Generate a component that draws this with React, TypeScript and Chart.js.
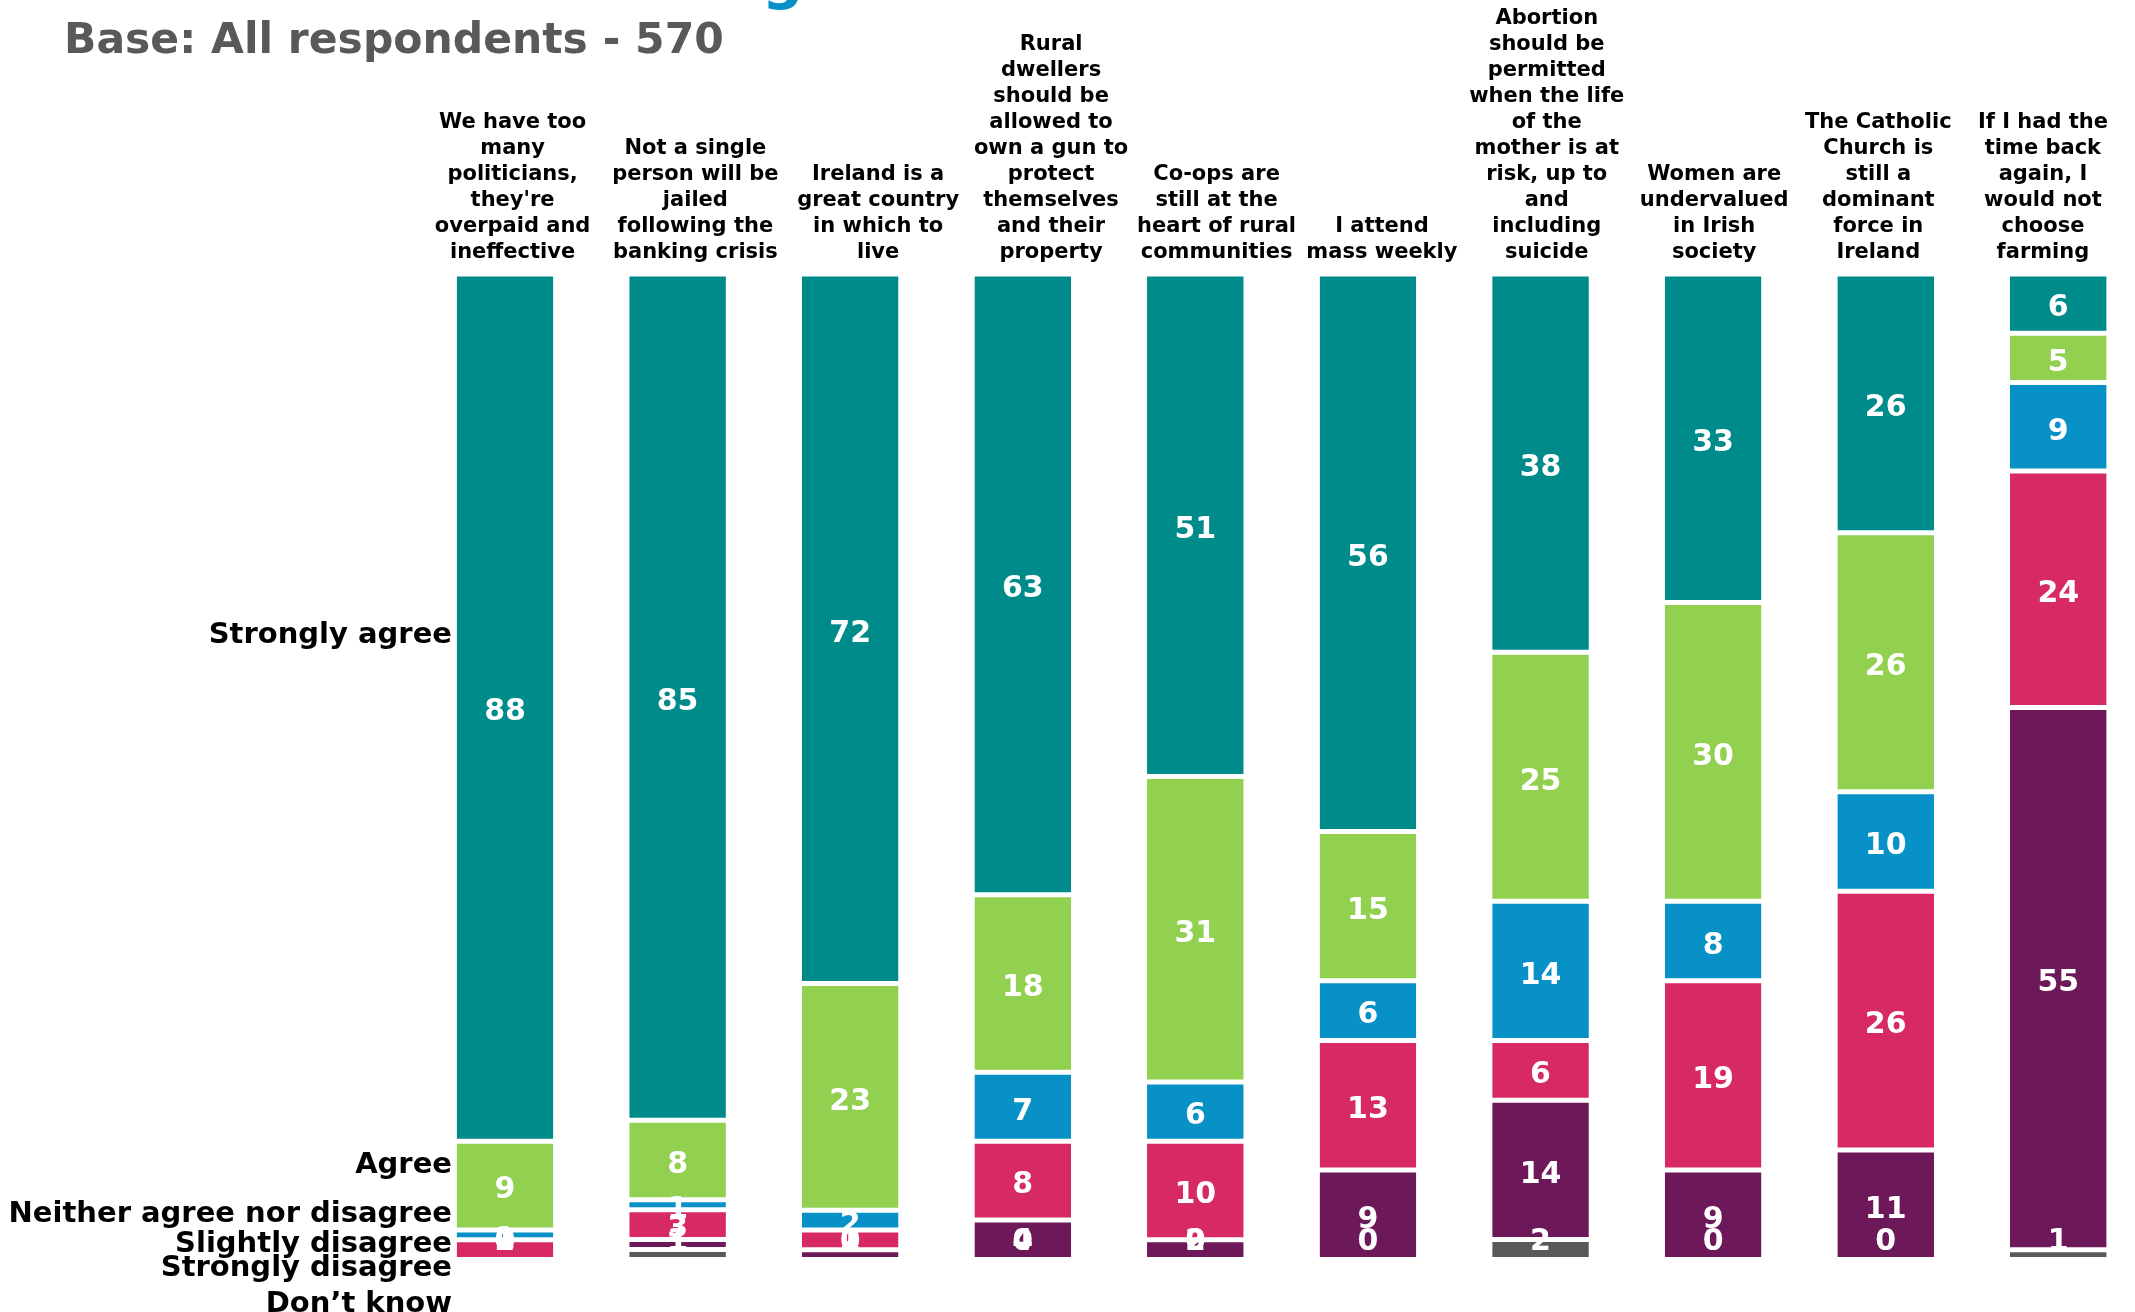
import React, { useEffect, useRef } from 'react';
import { Chart, registerables } from 'chart.js';

Chart.register(...registerables);

// ---- data ----
const categories: string[][] = [
  ['We have too', 'many', 'politicians,', "they're", 'overpaid and', 'ineffective'],
  ['Not a single', 'person will be', 'jailed', 'following the', 'banking crisis'],
  ['Ireland is a', 'great country', 'in which to', 'live'],
  ['Rural', 'dwellers', 'should be', 'allowed to', 'own a gun to', 'protect', 'themselves', 'and their', 'property'],
  ['Co-ops are', 'still at the', 'heart of rural', 'communities'],
  ['I attend', 'mass weekly'],
  ['Abortion', 'should be', 'permitted', 'when the life', 'of the', 'mother is at', 'risk, up to', 'and', 'including', 'suicide'],
  ['Women are', 'undervalued', 'in Irish', 'society'],
  ['The Catholic', 'Church is', 'still a', 'dominant', 'force in', 'Ireland'],
  ['If I had the', 'time back', 'again, I', 'would not', 'choose', 'farming'],
];

const seriesNames = [
  'Strongly agree',
  'Agree',
  'Neither agree nor disagree',
  'Slightly disagree',
  'Strongly disagree',
  'Don\u2019t know',
];

const stronglyAgree = [88, 85, 72, 63, 51, 56, 38, 33, 26, 6];
const agree = [9, 8, 23, 18, 31, 15, 25, 30, 26, 5];
const neither = [1, 1, 2, 7, 6, 6, 14, 8, 10, 9];
const slightlyDisagree = [2, 3, 2, 8, 10, 13, 6, 19, 26, 24];
const stronglyDisagree = [0, 1, 1, 4, 2, 9, 14, 9, 11, 55];
const dontKnow = [0, 1, 0, 0, 0, 0, 2, 0, 0, 1];

// y-axis label positions (value units, % of bar height)
const yLabelValues = [63.3, 9.5, 4.6, 1.55, -0.95, -4.6];
// category-label positions along the category axis (index units)
const categoryLabelPositions = [0.044, 1.103, 2.162, 3.164, 4.123, 5.081, 6.036, 7.006, 7.957, 8.911];

const titleText = 'Base: All respondents - 570';

// ---- styles ----
const seriesColors = ['#008B8B', '#92D050', '#0891C7', '#D82A62', '#6D1858', '#595959'];
const FONT = "'DejaVu Sans', Verdana, sans-serif";

export default function App() {
  const ref = useRef<HTMLCanvasElement | null>(null);

  useEffect(() => {
    if (!ref.current) return;
    const series = [stronglyAgree, agree, neither, slightlyDisagree, stronglyDisagree, dontKnow];
    const totals = categories.map((_, i) => series.reduce((s, arr) => s + arr[i], 0));

    // bottom-most stack first
    const order = [5, 4, 3, 2, 1, 0];
    const datasets = order.map((si) => ({
      label: seriesNames[si],
      data: series[si].map((v, i) => (v / totals[i]) * 100),
      rawValues: series[si],
      backgroundColor: seriesColors[si],
      borderColor: '#ffffff',
      borderWidth: { top: 2.5, bottom: 2.5, left: 0, right: 0 },
      borderSkipped: false as const,
      categoryPercentage: 0.8,
      barPercentage: 0.7,
      clip: false as const,
    }));

    const labelPlugin = {
      id: 'segLabels',
      afterDatasetsDraw(chart: any) {
        const ctx = chart.ctx;
        const area = chart.chartArea;
        ctx.save();
        ctx.font = `bold 30px ${FONT}`;
        ctx.fillStyle = '#ffffff';
        ctx.textAlign = 'center';
        ctx.textBaseline = 'middle';
        chart.data.datasets.forEach((ds: any, di: number) => {
          const meta = chart.getDatasetMeta(di);
          meta.data.forEach((el: any, i: number) => {
            let cy = (el.y + el.base) / 2;
            cy = Math.min(cy, area.bottom - 22);
            cy = Math.max(cy, area.top + 22);
            ctx.fillText(String(ds.rawValues[i]), el.x, cy + 5);
          });
        });
        ctx.restore();
      },
    };

    const textPlugin = {
      id: 'headerText',
      afterDraw(chart: any) {
        const ctx = chart.ctx;
        ctx.save();
        ctx.textAlign = 'left';
        ctx.textBaseline = 'alphabetic';
        ctx.fillStyle = '#0891C7';
        ctx.font = `bold 58px ${FONT}`;
        ctx.fillText('g', 762, -2);
        ctx.fillStyle = '#595959';
        ctx.font = `bold 42.5px ${FONT}`;
        ctx.fillText(titleText, 64, 53);
        ctx.restore();
      },
    };

    const noPad = (s: any) => {
      s.paddingTop = 0;
      s.paddingBottom = 0;
      s.paddingLeft = 0;
      s.paddingRight = 0;
    };

    const chart = new Chart(ref.current, {
      type: 'bar',
      data: { labels: categories.map((_, i) => String(i)), datasets: datasets as any },
      options: {
        animation: false,
        responsive: false,
        devicePixelRatio: 1,
        layout: { padding: { top: 0, left: 0, right: 76.7, bottom: 52.5 } },
        plugins: {
          legend: { display: false },
          tooltip: { enabled: false },
          title: { display: false },
        },
        scales: {
          x: {
            type: 'category',
            display: false,
            stacked: true,
            offset: false,
            grid: { display: false, offset: false },
          },
          xl: {
            type: 'linear',
            position: 'top',
            min: 0,
            max: categories.length - 1,
            offset: false,
            grid: { display: false, drawTicks: false },
            border: { display: false },
            afterBuildTicks: (s: any) => {
              s.ticks = categoryLabelPositions.map((v) => ({ value: v }));
            },
            ticks: {
              autoSkip: false,
              maxRotation: 0,
              minRotation: 0,
              color: '#000000',
              padding: 8,
              font: { family: FONT, weight: 'bold', size: 21, lineHeight: 26 / 21 },
              callback: (_v: any, idx: number) => categories[idx],
            },
            afterFit: (s: any) => {
              s.height = 274;
              noPad(s);
            },
          },
          y: {
            type: 'linear',
            position: 'left',
            stacked: true,
            min: 0,
            max: 100,
            grid: { display: false, drawTicks: false },
            border: { display: false },
            afterBuildTicks: (s: any) => {
              s.ticks = yLabelValues.map((v) => ({ value: v }));
            },
            ticks: {
              autoSkip: false,
              color: '#000000',
              padding: 53,
              font: { family: FONT, weight: 'bold', size: 29 },
              callback: (_v: any, idx: number) => seriesNames[idx],
            },
            afterFit: (s: any) => {
              s.width = 505;
              noPad(s);
            },
          },
        },
      } as any,
      plugins: [labelPlugin, textPlugin],
    });
    return () => chart.destroy();
  }, []);

  return (
    <div style={{ position: 'fixed', left: 0, top: 0, width: '2135px', height: '1312px', background: '#ffffff' }}>
      <canvas ref={ref} width={2135} height={1312} style={{ display: 'block', width: '2135px', height: '1312px' }} />
    </div>
  );
}
